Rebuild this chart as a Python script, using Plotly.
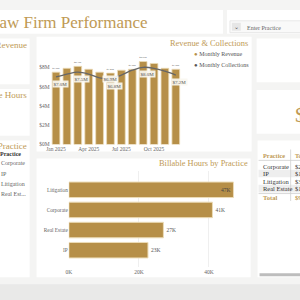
import plotly.graph_objects as go

# ---------------- data ----------------
months = ["Jan 2025", "Feb 2025", "Mar 2025", "Apr 2025", "May 2025", "Jun 2025",
          "Jul 2025", "Aug 2025", "Sep 2025", "Oct 2025", "Nov 2025", "Dec 2025"]
monthly_revenue = [7.5, 7.9, 8.1, 7.8, 7.5, 7.4, 7.7, 7.8, 8.6, 8.4, 7.9, 7.8]
monthly_collections = [7.0, 7.3, 7.5, 7.3, 6.9, 6.8, 7.2, 7.7, 8.0, 7.9, 7.6, 7.2]
revenue_labelled = ["Jan 2025", "Mar 2025", "Jun 2025", "Aug 2025", "Sep 2025", "Dec 2025"]
collections_labelled = ["Jan 2025", "Mar 2025", "May 2025", "Jun 2025", "Sep 2025", "Dec 2025"]
month_ticks = ["Jan 2025", "Apr 2025", "Jul 2025", "Oct 2025"]
revenue_ticks = [0, 2, 4, 6, 8]

practices = ["Litigation", "Corporate", "Real Estate", "IP"]
billable_hours_k = [47, 41, 27, 22.6]
hours_ticks = [0, 20, 40]

table_practices = ["Corporate", "IP", "Litigation", "Real Estate"]
table_totals = [28.6, 14.2, 33.1, 18.6]

slicer_items = ["Practice", "Corporate", "IP", "Litigation", "Real Est..."]

# ---------------- style ----------------
GOLD = "#b68f48"
GOLD_TXT = "#c09a55"
BG = "#f4f4f3"
FONT = "Liberation Serif"
W = H = 300


def px(x):
    return x / W


def py(y):
    return 1 - y / H


fig = go.Figure()

# Revenue bars
fig.add_trace(go.Bar(
    x=months, y=monthly_revenue,
    marker=dict(color=GOLD, line=dict(color="#ecdcb8", width=0.8)),
    text=[f"${v:.1f}M" if m in revenue_labelled else "" for m, v in zip(months, monthly_revenue)],
    textposition="outside", textfont=dict(size=5, color="#555", family=FONT),
    cliponaxis=False, xaxis="x", yaxis="y", hoverinfo="skip",
))
# Collections line
fig.add_trace(go.Scatter(
    x=months, y=monthly_collections, mode="lines",
    line=dict(color="#666666", width=1.3, shape="spline"),
    xaxis="x", yaxis="y", hoverinfo="skip",
))
# Billable hours
fig.add_trace(go.Bar(
    x=billable_hours_k, y=practices, orientation="h", width=0.77,
    marker=dict(color=GOLD, line=dict(color="#ecdcb8", width=1)),
    texttemplate="%{x:.0f}K",
    textposition=["inside", "outside", "outside", "outside"],
    insidetextanchor="end",
    textfont=dict(size=5.5, color="#555", family=FONT),
    insidetextfont=dict(size=5.5, color="#444", family=FONT),
    cliponaxis=False, xaxis="x2", yaxis="y2", hoverinfo="skip",
))

shapes = []


def rect(x0, y0, x1, y1, fill="white", line=None, lw=0):
    shapes.append(dict(type="rect", xref="paper", yref="paper", layer="below",
                       x0=px(x0), x1=px(x1), y0=py(y1), y1=py(y0),
                       fillcolor=fill, line=dict(width=lw, color=line or fill)))


def hline(x0, x1, y, color="#d0d0d0", w=0.8):
    shapes.append(dict(type="line", xref="paper", yref="paper", layer="above",
                       x0=px(x0), x1=px(x1), y0=py(y), y1=py(y), line=dict(color=color, width=w)))


def vline(x, y0, y1, color="#d0d0d0", w=0.8):
    shapes.append(dict(type="line", xref="paper", yref="paper", layer="above",
                       x0=px(x), x1=px(x), y0=py(y0), y1=py(y1), line=dict(color=color, width=w)))


rect(-5, 287, 305, 305, fill="#e9e9e8")
rect(-5, 10, 222, 34)
rect(226, 10, 305, 34)
rect(229, 21, 305, 33, fill="#f9f9f9", line="#e2e2e2", lw=0.8)
rect(231, 23, 240, 31, fill="#e6e6e6")
rect(-5, 39, 26, 85)
rect(-5, 90, 26, 137)
rect(-5, 142, 26, 280)
rect(33, 37, 251, 153)
rect(33, 160, 250, 280)
rect(256, 39, 305, 83)
rect(256, 91, 305, 135)
rect(257, 142, 305, 280)
# table striping
rect(258, 171.5, 305, 179, fill="#eeeeee")
rect(258, 186.5, 305, 194.5, fill="#eeeeee")
hline(258, 305, 162)
hline(258, 305, 195.5)
vline(290.5, 151, 203)
# scrollbar
rect(259, 276, 305, 279, fill="#bdbdbd")

ann = []


def text(x, y, s, size, color="#555", anchor="left", bold=False, **kw):
    ann.append(dict(xref="paper", yref="paper", x=px(x), y=py(y), text=f"<b>{s}</b>" if bold else s,
                    showarrow=False, xanchor=anchor, yanchor="middle",
                    font=dict(size=size, color=color, family=FONT), **kw))


text(148, 23, "Law Firm Performance", 17, GOLD_TXT, anchor="right")
text(235.5, 27, "⌄", 6, "#555", anchor="center")
text(244, 28, "Enter Practice", 6, "#666")
text(25.5, 45, "Total Revenue", 9, GOLD_TXT, anchor="right")
text(25.5, 96, "Billable Hours", 9, GOLD_TXT, anchor="right")
text(25.5, 147, "Filter Practice", 9, GOLD_TXT, anchor="right")
for i, item in enumerate(slicer_items):
    if i == 0:
        text(-6, 156, item, 6, "#333", bold=True)
    else:
        text(-5, 165 + (i - 1) * 10.3, item, 6, "#666")

text(249, 44, "Revenue &amp; Collections", 8.4, GOLD_TXT, anchor="right")
text(191, 55, f'<span style="color:{GOLD}">●</span> Monthly Revenue', 6, "#555")
text(191, 66, '<span style="color:#555">●</span> Monthly Collections', 6, "#555")
text(249, 165, "Billable Hours by Practice", 8.4, GOLD_TXT, anchor="right")

text(293, 116, f"${sum(monthly_revenue):.1f}M", 22, GOLD_TXT)

# table
text(260, 157, "Practice", 6.3, GOLD_TXT, bold=True)
text(292.5, 157, "Total", 6.3, GOLD_TXT, bold=True)
for i, (p, v) in enumerate(zip(table_practices, table_totals)):
    yy = 168 + i * 7.6
    text(260, yy, p, 6.5, "#333")
    text(292.5, yy, f"${v:.1f}M", 6.5, "#333")
text(260, 199.5, "Total", 6.5, GOLD_TXT, bold=True)
text(292.5, 199.5, f"${sum(table_totals):.1f}M", 6.5, GOLD_TXT, bold=True)

# collection data labels
for m, v in zip(months, monthly_collections):
    if m in collections_labelled:
        shift_x = 11 if m == "May 2025" else 4
        shift_y = -1 if m == "May 2025" else -7
        ann.append(dict(xref="x", yref="y", x=m, y=v, text=f"${v:.1f}M", showarrow=False,
                        xshift=shift_x, yshift=shift_y, bgcolor="rgba(250,247,240,0.92)", borderpad=0.5,
                        font=dict(size=5, color="#555", family=FONT)))

fig.update_layout(
    width=W, height=H, margin=dict(l=0, r=0, t=0, b=0),
    paper_bgcolor=BG, plot_bgcolor="rgba(0,0,0,0)",
    showlegend=False, bargap=0.29,
    font=dict(family=FONT, color="#666"),
    shapes=shapes, annotations=ann,
    xaxis=dict(domain=[px(47.2), px(186.8)], type="category", categoryorder="array", categoryarray=months,
               tickmode="array", tickvals=month_ticks, ticktext=month_ticks,
               showgrid=False, zeroline=False, showline=False,
               ticks="", tickfont=dict(size=5.5, color="#666", family=FONT), anchor="y", fixedrange=True),
    yaxis=dict(domain=[py(146), py(48.5)], range=[0, 10], tickmode="array", tickvals=revenue_ticks,
               ticktext=[f"${v}M" for v in revenue_ticks],
               showgrid=False, zeroline=False, showline=False, ticks="", showticklabels=True,
               tickfont=dict(size=5.5, color="#666", family=FONT), anchor="x"),
    xaxis2=dict(domain=[px(65.7), px(243.2)], range=[0, 50], tickmode="array", tickvals=hours_ticks,
                ticktext=[f"{v}K" for v in hours_ticks],
                showgrid=True, gridcolor="#efefef", gridwidth=0.8, zeroline=False, showline=False, ticks="",
                tickfont=dict(size=5.5, color="#666", family=FONT), anchor="y2"),
    yaxis2=dict(domain=[py(270), py(173)], type="category", categoryorder="array",
                categoryarray=practices[::-1], range=[-0.85, 3.92], showgrid=False, zeroline=False,
                showline=False, ticks="", tickfont=dict(size=5.3, color="#666", family=FONT), anchor="x2"),
)

fig.write_html("out.html")
